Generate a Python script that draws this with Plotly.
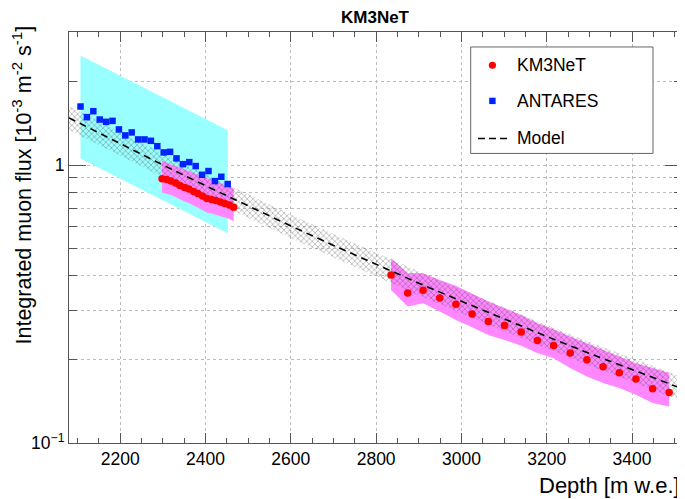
import plotly.graph_objects as go

# ---------------- data ----------------
antares_depth = [2107, 2122, 2137, 2152, 2167, 2182, 2197, 2212, 2227, 2242, 2257, 2272,
                 2287, 2302, 2317, 2332, 2347, 2362, 2377, 2392, 2407, 2422, 2437, 2452]
antares_flux = [1.625, 1.488, 1.563, 1.459, 1.431, 1.443, 1.344, 1.279, 1.311, 1.237, 1.237, 1.223,
                1.170, 1.111, 1.116, 1.057, 1.008, 1.025, 0.992, 0.923, 0.952, 0.876, 0.908, 0.855]
antares_band_depth = [2107, 2452]
antares_band_lo = [1.057, 0.568]
antares_band_hi = [2.479, 1.336]

km3_depth_a = [2298, 2309, 2319, 2330, 2340, 2351, 2361, 2372, 2382, 2393, 2403, 2414,
               2424, 2435, 2445, 2456, 2466]
km3_flux_a = [0.894, 0.888, 0.876, 0.862, 0.844, 0.830, 0.820, 0.803, 0.790, 0.774, 0.758, 0.752,
              0.746, 0.736, 0.727, 0.718, 0.705]
km3_hi_a = [1.036, 1.022, 1.007, 0.993, 0.979, 0.965, 0.951, 0.938, 0.925, 0.911, 0.899, 0.886,
            0.873, 0.861, 0.849, 0.837, 0.825]
km3_lo_a = [0.797, 0.791, 0.781, 0.768, 0.752, 0.740, 0.731, 0.715, 0.704, 0.690, 0.675, 0.670,
            0.665, 0.656, 0.648, 0.640, 0.628]

km3_depth_b = [2835, 2874, 2910, 2949, 2987, 3025, 3063, 3101, 3140, 3178, 3216, 3255,
               3294, 3332, 3370, 3409, 3448, 3487]
km3_flux_b = [0.4025, 0.3467, 0.3547, 0.3327, 0.3158, 0.2915, 0.2735, 0.2646, 0.2511, 0.2337,
              0.2243, 0.2106, 0.1992, 0.1880, 0.1789, 0.1698, 0.1567, 0.1520]
km3_hi_b = [0.4622, 0.4083, 0.4083, 0.3861, 0.3684, 0.3459, 0.3227, 0.3055, 0.2891, 0.2699,
            0.2568, 0.2415, 0.2287, 0.2164, 0.2047, 0.1938, 0.1860, 0.1785]
km3_lo_b = [0.3555, 0.3097, 0.3185, 0.2971, 0.2773, 0.2611, 0.2449, 0.2350, 0.2237, 0.2106,
            0.2020, 0.1860, 0.1734, 0.1643, 0.1576, 0.1491, 0.1392, 0.1353]

model_depth = [2080, 2200, 2300, 2400, 2500, 2600, 2700, 2800, 2900, 3000, 3100, 3200,
               3300, 3400, 3500, 3517]
model_flux = [1.479, 1.193, 1.001, 0.843, 0.712, 0.604, 0.514, 0.439, 0.376, 0.3236, 0.2792,
              0.2417, 0.2101, 0.1833, 0.1604, 0.1569]
model_hi = [1.627, 1.312, 1.101, 0.927, 0.783, 0.664, 0.565, 0.483, 0.414, 0.356, 0.307,
            0.266, 0.231, 0.202, 0.176, 0.173]
model_lo = [1.338, 1.080, 0.906, 0.763, 0.644, 0.547, 0.465, 0.397, 0.340, 0.293, 0.253,
            0.219, 0.190, 0.166, 0.145, 0.142]

x_ticks = [2200, 2400, 2600, 2800, 3000, 3200, 3400]
y_ticks = [0.1, 1]
y_ticktext = ["10<sup>\u22121</sup>", "1"]
y_minor = [0.2, 0.3, 0.4, 0.5, 0.6, 0.7, 0.8, 0.9, 2, 3]

legend_names = ["KM3NeT", "ANTARES", "Model"]

FONT = "Liberation Sans, Arial, Helvetica, sans-serif"
CYAN = "rgb(153,255,255)"
MAGENTA = "rgb(255,135,255)"

fig = go.Figure()


def band(xs, lo, hi, **kw):
    return go.Scatter(x=list(xs) + list(xs)[::-1], y=list(hi) + list(lo)[::-1],
                      mode="lines", line=dict(width=0), fill="toself",
                      hoverinfo="skip", showlegend=False, **kw)


fig.add_trace(band(antares_band_depth, antares_band_lo, antares_band_hi, fillcolor=CYAN))
fig.add_trace(band(km3_depth_a, km3_lo_a, km3_hi_a, fillcolor=MAGENTA))
fig.add_trace(band(km3_depth_b, km3_lo_b, km3_hi_b, fillcolor=MAGENTA))
fig.add_trace(band(model_depth, model_lo, model_hi, fillcolor="rgba(0,0,0,0)",
                   fillpattern=dict(shape="x", fgcolor="rgba(60,60,60,0.8)",
                                    bgcolor="rgba(0,0,0,0)", size=4, solidity=0.35)))
fig.add_trace(go.Scatter(x=model_depth, y=model_flux, mode="lines", name="Model",
                         line=dict(color="black", width=1.6, dash="7px,5px"), showlegend=False))
fig.add_trace(go.Scatter(x=antares_depth, y=antares_flux, mode="markers", name="ANTARES",
                         marker=dict(symbol="square", size=6.5, color="#0022ff"), showlegend=False))
fig.add_trace(go.Scatter(x=km3_depth_a, y=km3_flux_a, mode="markers", name="KM3NeT",
                         marker=dict(symbol="circle", size=7.5, color="#ff0000"), showlegend=False))
fig.add_trace(go.Scatter(x=km3_depth_b, y=km3_flux_b, mode="markers", name="KM3NeT",
                         marker=dict(symbol="circle", size=7.5, color="#ff0000"), showlegend=False))

# ---------------- layout ----------------
# The page body has an 8px margin, so the figure is drawn 8px smaller and
# reference pixel coordinates are shifted by that offset.
OFF = 8
W, H = 685 - OFF, 499 - OFF
L_REF, R_REF, T_REF, B_REF = 69.3, 682.3, 31.7, 443.3   # plot frame in reference pixels
ml = L_REF - OFF
mt = T_REF - OFF
mr = W - (R_REF - OFF)
mb = H - (B_REF - OFF)
pw, ph = R_REF - L_REF, B_REF - T_REF


def px(xr):
    return (xr - L_REF) / pw


def py(yr):
    return (B_REF - yr) / ph


shapes = []
annotations = []
# legend box
shapes.append(dict(type="rect", xref="paper", yref="paper", x0=px(471), x1=px(653.3),
                   y0=py(153.3), y1=py(46.7), line=dict(color="#666", width=1),
                   fillcolor="white", layer="above"))
rows = [65, 100.7, 138.3]
shapes.append(dict(type="circle", xref="paper", yref="paper",
                   x0=px(492.7 - 3.6), x1=px(492.7 + 3.6), y0=py(rows[0] + 3.6), y1=py(rows[0] - 3.6),
                   fillcolor="#ff0000", line=dict(width=0), layer="above"))
shapes.append(dict(type="rect", xref="paper", yref="paper",
                   x0=px(492.7 - 3.2), x1=px(492.7 + 3.2), y0=py(rows[1] + 3.2), y1=py(rows[1] - 3.2),
                   fillcolor="#0022ff", line=dict(width=0), layer="above"))
shapes.append(dict(type="line", xref="paper", yref="paper",
                   x0=px(478.3), x1=px(510), y0=py(rows[2]), y1=py(rows[2]),
                   line=dict(color="black", width=1.6, dash="7px,4px"), layer="above"))
for name, r in zip(legend_names, rows):
    annotations.append(dict(text=name, xref="paper", yref="paper", x=px(515.5), y=py(r),
                            xanchor="left", yanchor="middle", showarrow=False,
                            font=dict(family=FONT, size=17.5, color="black")))

annotations.append(dict(text="<b>KM3NeT</b>", xref="paper", yref="paper", x=0.5, y=py(17.5),
                        xanchor="center", yanchor="middle", showarrow=False, borderpad=0,
                        font=dict(family=FONT, size=17, color="black")))
annotations.append(dict(text="Depth [m w.e.]", xref="paper", yref="paper", x=1.0, y=py(486),
                        xanchor="right", yanchor="middle", showarrow=False,
                        font=dict(family=FONT, size=22, color="black")))
annotations.append(dict(text="Integrated muon flux [10<sup>-3</sup> m<sup>-2</sup> s<sup>-1</sup>]",
                        xref="paper", yref="paper", x=px(22), y=py(23), textangle=-90,
                        xanchor="center", yanchor="top", showarrow=False,
                        font=dict(family=FONT, size=21.5, color="black")))

fig.update_layout(
    width=W, height=H,
    margin=dict(l=ml, r=mr, t=mt, b=mb, pad=0),
    paper_bgcolor="white", plot_bgcolor="white",
    showlegend=False,
    shapes=shapes, annotations=annotations,
    font=dict(family=FONT, size=17, color="black"),
)
fig.update_xaxes(
    range=[2080, 3517], tickmode="array", tickvals=x_ticks,
    ticks="inside", ticklen=10, tickcolor="#555", tickwidth=1,
    showline=True, linecolor="#555", linewidth=1, mirror="allticks",
    showgrid=True, gridcolor="#bbbbbb", griddash="dot", gridwidth=1,
    zeroline=False, tickfont=dict(family=FONT, size=17.5, color="black"),
    minor=dict(tickmode="linear", tick0=2000, dtick=50, ticks="inside", ticklen=5,
               tickcolor="#555", showgrid=False),
)
fig.update_yaxes(
    type="log", range=[-1, 0.479], tickmode="array", tickvals=y_ticks, ticktext=y_ticktext,
    ticks="inside", ticklen=17, tickcolor="#555", tickwidth=1,
    showline=True, linecolor="#555", linewidth=1, mirror="allticks",
    showgrid=True, gridcolor="#bbbbbb", griddash="dot", gridwidth=1,
    zeroline=False, tickfont=dict(family=FONT, size=17.5, color="black"),
    minor=dict(tickmode="array", tickvals=y_minor, ticks="inside", ticklen=8,
               tickcolor="#555", showgrid=True, gridcolor="#bbbbbb", griddash="dot"),
)

fig.write_html("out.html")
